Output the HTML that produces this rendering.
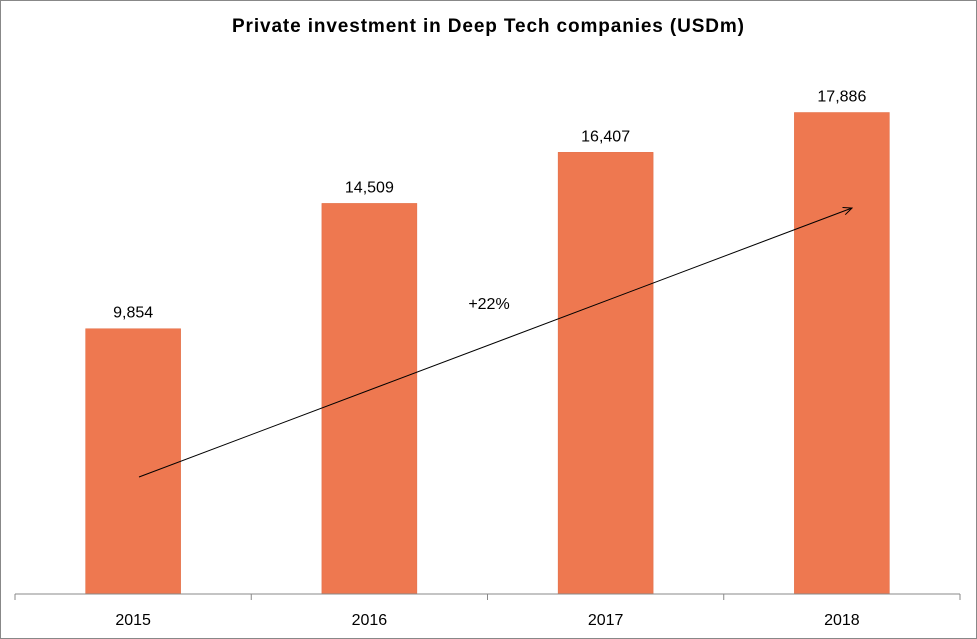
<!DOCTYPE html>
<html><head><meta charset="utf-8"><style>
body{margin:0;background:#fff}
svg{display:block;font-family:"Liberation Sans",sans-serif}
</style></head><body>
<svg id="c" width="977" height="639">
<rect x="0.5" y="0.5" width="976" height="638" fill="#fff" stroke="#888"/>
<text x="488" y="32" text-anchor="middle" font-size="19" font-weight="bold" fill="#000" textLength="512" lengthAdjust="spacing">Private investment in Deep Tech companies (USDm)</text>
<g id="bars"></g>
<line x1="15" y1="594" x2="960" y2="594" stroke="#888"/>
<g id="ticks"></g>
<defs><marker id="ah" markerWidth="10" markerHeight="8" refX="9" refY="4" orient="auto" markerUnits="userSpaceOnUse"><path d="M0,0 L9,4 L0,8" fill="none" stroke="#000"/></marker></defs>
<line x1="139" y1="477" x2="852" y2="208" stroke="#000" stroke-width="1" marker-end="url(#ah)"/>
<text x="489" y="309" text-anchor="middle" font-size="16" fill="#000">+22%</text>
</svg>
<script>
const categories=["2015","2016","2017","2018"];
const values=[9854,14509,16407,17886];
const labels=["9,854","14,509","16,407","17,886"];
const ns="http://www.w3.org/2000/svg";
const x0=15,x1=960,base=594,scale=0.02692;
const bw=(x1-x0)/categories.length;
const xC=i=>x0+bw*(i+0.5);
const yV=v=>base-v*scale;
const bars=document.getElementById('bars'),ticks=document.getElementById('ticks');
function mk(t,a,p){const e=document.createElementNS(ns,t);for(const k in a)e.setAttribute(k,a[k]);p.appendChild(e);return e;}
categories.forEach((c,i)=>{
 const r=mk('rect',{x:xC(i)-47.5,y:yV(values[i]),width:95,height:values[i]*scale,fill:'#ee7850',stroke:'#e06a40','stroke-width':0.5},bars);
 
 
 const t=mk('text',{x:xC(i),y:yV(values[i])-11,'text-anchor':'middle','font-size':16,fill:'#000'},bars);
 t.textContent=labels[i];
 
 
 const l=mk('text',{x:xC(i),y:625,'text-anchor':'middle','font-size':16,fill:'#000'},ticks);
 l.textContent=c;
 
 
});
for(let i=0;i<=categories.length;i++){
 const tk=mk('line',{x1:x0+bw*i,x2:x0+bw*i,y1:594,y2:600,stroke:'#888'},ticks);
 
 
}
</script>
</body></html>
